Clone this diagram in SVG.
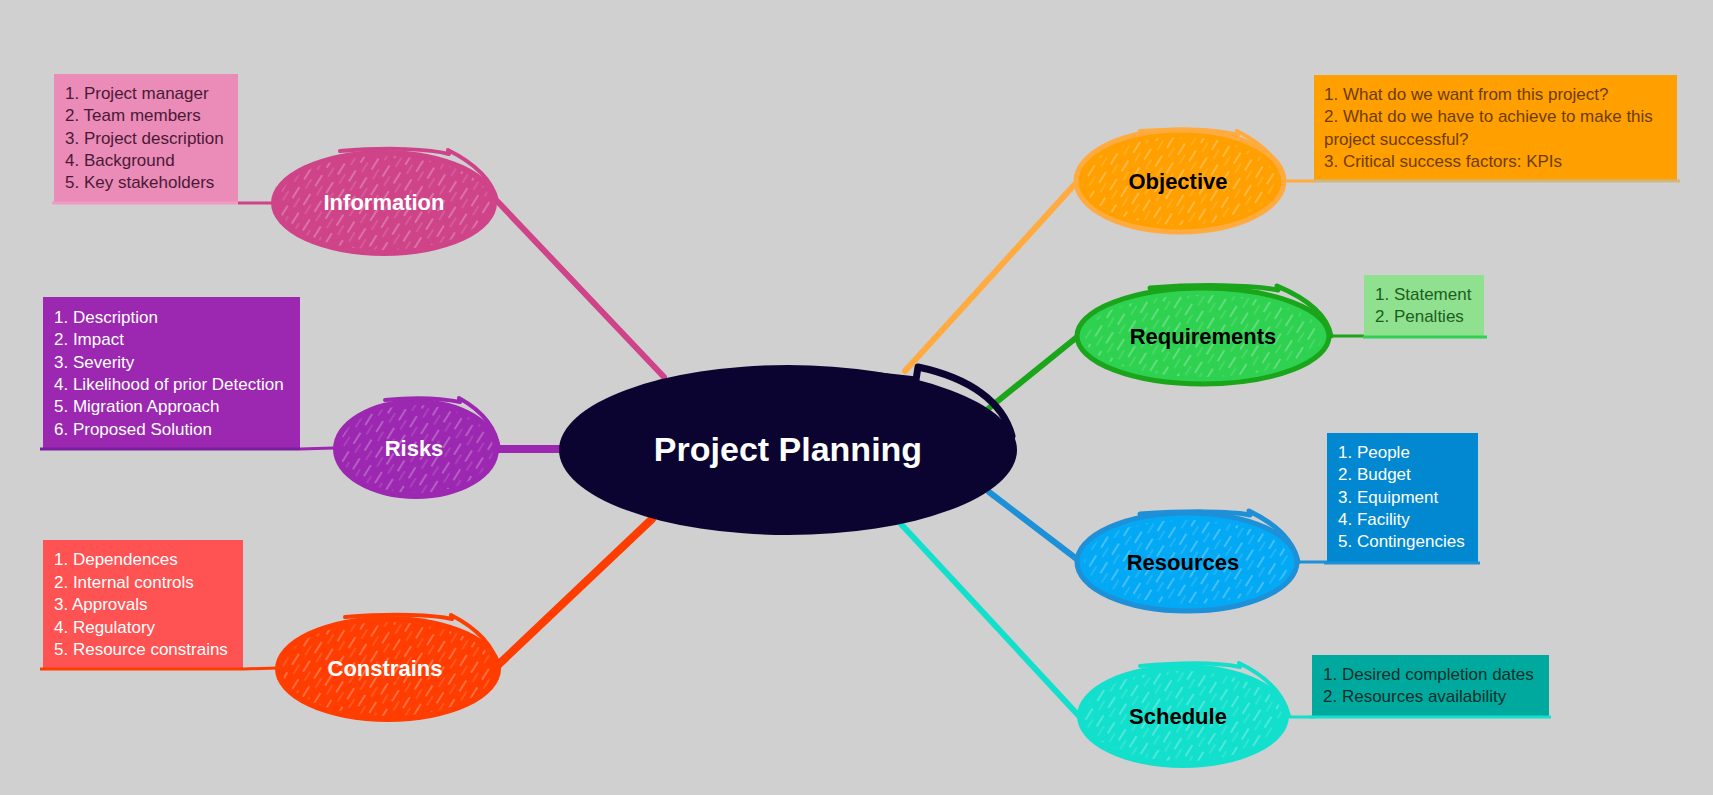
<svg xmlns="http://www.w3.org/2000/svg" width="1713" height="795" viewBox="0 0 1713 795">
<defs>
<pattern id="hatch" patternUnits="userSpaceOnUse" width="13" height="22" patternTransform="rotate(32)">
<line x1="2" y1="0" x2="2" y2="13" stroke="#ffffff" stroke-width="1" stroke-opacity="0.5"/>
<line x1="8" y1="9" x2="8" y2="20" stroke="#ffffff" stroke-width="0.8" stroke-opacity="0.3"/>
</pattern>
<style>
.lst{font-family:"Liberation Sans",Arial,sans-serif;font-size:17px}
.lbl{font-family:"Liberation Sans",Arial,sans-serif;font-size:22px;font-weight:bold;text-anchor:middle}
.conn{fill:none;stroke-linecap:round}
.hk{fill:none;stroke-linecap:round;stroke-linejoin:round}
</style>
</defs>
<rect width="1713" height="795" fill="#d0d0d0"/>

<g id="connectors">
<line class="conn" x1="498" y1="202" x2="664" y2="377" stroke="#cf4389" stroke-width="6"/>
<line class="conn" x1="499" y1="449" x2="565" y2="449" stroke="#9c27b0" stroke-width="8"/>
<line class="conn" x1="497" y1="666" x2="652" y2="519" stroke="#ff3d00" stroke-width="8"/>
<line class="conn" x1="905" y1="371" x2="1076" y2="183" stroke="#ffab40" stroke-width="6"/>
<line class="conn" x1="983" y1="413" x2="1082" y2="333" stroke="#1aa51a" stroke-width="6"/>
<line class="conn" x1="989" y1="492" x2="1082" y2="563" stroke="#1e90d8" stroke-width="6"/>
<line class="conn" x1="901" y1="524" x2="1079" y2="716" stroke="#12e0cc" stroke-width="6"/>
<line x1="238" y1="203" x2="272" y2="203" stroke="#cf4389" stroke-width="3"/>
<line x1="300" y1="449" x2="334" y2="448" stroke="#9c27b0" stroke-width="3"/>
<line x1="243" y1="669" x2="277" y2="668" stroke="#ff3d00" stroke-width="3"/>
<line x1="1284" y1="181" x2="1316" y2="181" stroke="#ffab40" stroke-width="3"/>
<line x1="1331" y1="336" x2="1365" y2="336" stroke="#1aa51a" stroke-width="3"/>
<line x1="1298" y1="562" x2="1330" y2="562" stroke="#1e90d8" stroke-width="3"/>
<line x1="1289" y1="717" x2="1315" y2="717" stroke="#12e0cc" stroke-width="3"/>
</g>

<g id="center">
<ellipse cx="788" cy="450" rx="229" ry="85" fill="#0b0430"/>
<path class="hk" d="M880,376 L916,380 L918,367 C970,378 1003,402 1012,436" stroke="#0b0430" stroke-width="7"/>
<text x="788" y="461" font-family="Liberation Sans, Arial, sans-serif" font-size="34" font-weight="bold" fill="#ffffff" text-anchor="middle">Project Planning</text>
</g>

<g id="information">
<ellipse cx="384" cy="203" rx="113" ry="53" fill="#cf4389"/>
<ellipse cx="384" cy="203" rx="106" ry="47" fill="url(#hatch)"/>
<path class="hk" d="M340,151 C390,147 430,149 449,154 L448,150 C476,164 492,180 497,200" stroke="#cf4389" stroke-width="4"/>
<text class="lbl" x="384" y="210" fill="#ffffff">Information</text>
<rect x="54" y="74" width="184" height="129" fill="#ea8bb8"/>
<line x1="52" y1="203" x2="238" y2="203" stroke="#f09ac4" stroke-width="3"/>
<text class="lst" fill="#4a1a35"><tspan x="65" y="99">1. Project manager</tspan><tspan x="65" y="121">2. Team members</tspan><tspan x="65" y="144">3. Project description</tspan><tspan x="65" y="166">4. Background</tspan><tspan x="65" y="188">5. Key stakeholders</tspan></text>
</g>

<g id="risks">
<ellipse cx="416" cy="449" rx="83" ry="50" fill="#9c27b0"/>
<ellipse cx="416" cy="449" rx="77" ry="44" fill="url(#hatch)"/>
<path class="hk" d="M385,400 C415,397 440,398 460,402 L459,398 C484,412 497,430 499,450" stroke="#9c27b0" stroke-width="4"/>
<text class="lbl" x="414" y="456" fill="#ffffff">Risks</text>
<rect x="43" y="297" width="257" height="152" fill="#9c27b0"/>
<line x1="40" y1="449" x2="300" y2="449" stroke="#7b1fa2" stroke-width="3"/>
<text class="lst" fill="#ffffff"><tspan x="54" y="323">1. Description</tspan><tspan x="54" y="345">2. Impact</tspan><tspan x="54" y="368">3. Severity</tspan><tspan x="54" y="390">4. Likelihood of prior Detection</tspan><tspan x="54" y="412">5. Migration Approach</tspan><tspan x="54" y="435">6. Proposed Solution</tspan></text>
</g>

<g id="constrains">
<ellipse cx="388" cy="669" rx="113" ry="53" fill="#ff3d00"/>
<ellipse cx="388" cy="669" rx="106" ry="47" fill="url(#hatch)"/>
<path class="hk" d="M345,617 C395,613 435,615 452,619 L451,615 C480,630 494,648 498,666" stroke="#ff3d00" stroke-width="4"/>
<text class="lbl" x="385" y="676" fill="#ffffff">Constrains</text>
<rect x="43" y="540" width="200" height="128" fill="#ff5252"/>
<line x1="40" y1="669" x2="243" y2="669" stroke="#ff3d00" stroke-width="3"/>
<text class="lst" fill="#ffffff"><tspan x="54" y="565">1. Dependences</tspan><tspan x="54" y="588">2. Internal controls</tspan><tspan x="54" y="610">3. Approvals</tspan><tspan x="54" y="633">4. Regulatory</tspan><tspan x="54" y="655">5. Resource constrains</tspan></text>
</g>

<g id="objective">
<ellipse cx="1180" cy="181" rx="104" ry="51" fill="#ffa000" stroke="#ffab40" stroke-width="5"/>
<ellipse cx="1180" cy="181" rx="97" ry="44" fill="url(#hatch)"/>
<path class="hk" d="M1140,131 C1185,128 1220,130 1238,135 L1237,131 C1265,145 1280,162 1284,181" stroke="#ffab40" stroke-width="4"/>
<text class="lbl" x="1178" y="189" fill="#000000">Objective</text>
<rect x="1314" y="75" width="363" height="105" fill="#ffa000"/>
<line x1="1314" y1="181" x2="1680" y2="181" stroke="#d0b77f" stroke-width="3"/>
<text class="lst" fill="#6d3c00"><tspan x="1324" y="100">1. What do we want from this project?</tspan><tspan x="1324" y="122">2. What do we have to achieve to make this</tspan><tspan x="1324" y="145">project successful?</tspan><tspan x="1324" y="167">3. Critical success factors: KPIs</tspan></text>
</g>

<g id="requirements">
<ellipse cx="1203" cy="336" rx="126" ry="48" fill="#2ed150" stroke="#1aa51a" stroke-width="5"/>
<ellipse cx="1203" cy="336" rx="119" ry="41" fill="url(#hatch)"/>
<path class="hk" d="M1150,288 C1200,284 1250,285 1278,290 L1277,286 C1308,299 1327,315 1331,336" stroke="#1aa51a" stroke-width="5"/>
<text class="lbl" x="1203" y="344" fill="#000000">Requirements</text>
<rect x="1364" y="275" width="120" height="61" fill="#8fe08f"/>
<line x1="1363" y1="337" x2="1487" y2="337" stroke="#2ed150" stroke-width="3"/>
<text class="lst" fill="#1b5e20"><tspan x="1375" y="300">1. Statement</tspan><tspan x="1375" y="322">2. Penalties</tspan></text>
</g>

<g id="resources">
<ellipse cx="1187" cy="562" rx="110" ry="49" fill="#03a9f4" stroke="#1e90d8" stroke-width="5"/>
<ellipse cx="1187" cy="562" rx="103" ry="42" fill="url(#hatch)"/>
<path class="hk" d="M1140,514 C1185,511 1230,511 1250,515 L1249,511 C1278,525 1294,542 1298,562" stroke="#1e90d8" stroke-width="5"/>
<text class="lbl" x="1183" y="570" fill="#000000">Resources</text>
<rect x="1327" y="433" width="151" height="130" fill="#0288d1"/>
<line x1="1324" y1="563" x2="1480" y2="563" stroke="#1e90d8" stroke-width="3"/>
<text class="lst" fill="#ffffff"><tspan x="1338" y="458">1. People</tspan><tspan x="1338" y="480">2. Budget</tspan><tspan x="1338" y="503">3. Equipment</tspan><tspan x="1338" y="525">4. Facility</tspan><tspan x="1338" y="547">5. Contingencies</tspan></text>
</g>

<g id="schedule">
<ellipse cx="1183" cy="716" rx="106" ry="52" fill="#12e0cc"/>
<ellipse cx="1183" cy="716" rx="99" ry="45" fill="url(#hatch)"/>
<path class="hk" d="M1140,666 C1185,662 1220,663 1240,667 L1239,663 C1268,677 1284,695 1289,716" stroke="#12e0cc" stroke-width="4"/>
<text class="lbl" x="1178" y="724" fill="#000000">Schedule</text>
<rect x="1312" y="655" width="237" height="61" fill="#00a99d"/>
<line x1="1310" y1="717" x2="1551" y2="717" stroke="#12e0cc" stroke-width="3"/>
<text class="lst" fill="#0d2f2b"><tspan x="1323" y="680">1. Desired completion dates</tspan><tspan x="1323" y="702">2. Resources availability</tspan></text>
</g>
</svg>
